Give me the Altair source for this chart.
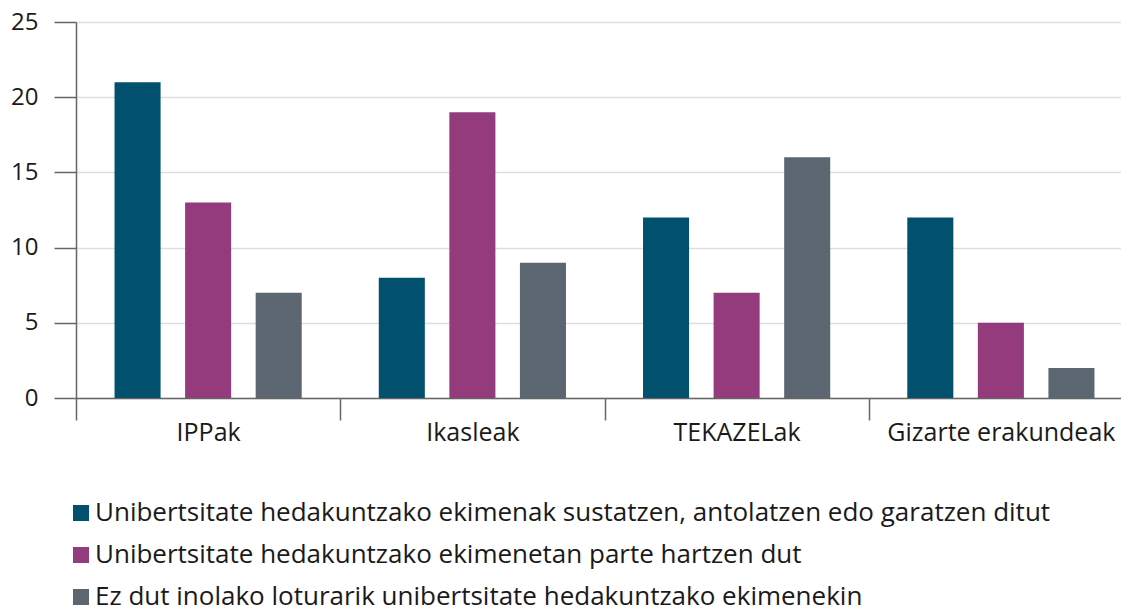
import altair as alt
import pandas as pd

categories = ["IPPak", "Ikasleak", "TEKAZELak", "Gizarte erakundeak"]
series = [
    "Unibertsitate hedakuntzako ekimenak sustatzen, antolatzen edo garatzen ditut",
    "Unibertsitate hedakuntzako ekimenetan parte hartzen dut",
    "Ez dut inolako loturarik unibertsitate hedakuntzako ekimenekin",
]
values_s1 = [21, 8, 12, 12]
values_s2 = [13, 19, 7, 5]
values_s3 = [7, 9, 16, 2]
colors = ["#00506e", "#943b7e", "#5b6670"]
y_ticks = [0, 5, 10, 15, 20, 25]

rows = []
for s, vals in zip(series, [values_s1, values_s2, values_s3]):
    for c, v in zip(categories, vals):
        rows.append({"kategoria": c, "seriea": s, "balioa": v})
df = pd.DataFrame(rows)

FONT = "Open Sans"
TXT = "#1a1a1a"
AX = "#666666"

chart = alt.Chart(df).mark_bar().encode(
    x=alt.X(
        "kategoria:N",
        sort=categories,
        scale=alt.Scale(paddingInner=0, paddingOuter=0, range=[0, 1057]),
        axis=alt.Axis(
            title=None, labelAngle=0, tickBand="extent", tickSize=22,
            tickColor=AX, tickWidth=1.5, domainColor=AX, domainWidth=1.5,
            labelFont=FONT, labelFontSize=25, labelColor=TXT, labelPadding=0,
            labelLimit=400, grid=False,
        ),
    ),
    xOffset=alt.XOffset(
        "seriea:N", sort=series,
        scale=alt.Scale(paddingInner=0.3475, paddingOuter=0.546),
    ),
    y=alt.Y(
        "balioa:Q",
        scale=alt.Scale(domain=[0, 25], nice=False),
        axis=alt.Axis(
            title=None, values=y_ticks, tickSize=22, tickColor=AX, tickWidth=1.5,
            domainColor=AX, domainWidth=1.5, labelFont=FONT, labelFontSize=24,
            labelColor=TXT, labelPadding=16, grid=True, gridColor="#dedede",
            gridWidth=1.5,
        ),
    ),
    color=alt.Color(
        "seriea:N",
        scale=alt.Scale(domain=series, range=colors),
        legend=alt.Legend(
            title=None, orient="none", legendX=-8, legendY=478,
            direction="vertical", symbolType="square", symbolSize=256,
            symbolStrokeWidth=0, symbolOpacity=1, labelFont=FONT,
            labelFontSize=26, labelColor=TXT, labelLimit=1100,
            labelOffset=1, rowPadding=16,
        ),
    ),
).properties(
    width=1045,
    height=376,
    padding={"left": 68, "top": 14, "right": 0, "bottom": 207},
    autosize=alt.AutoSizeParams(type="none"),
).configure_view(stroke=None)

chart.save("out.html", embed_options={"renderer": "svg", "actions": False})
